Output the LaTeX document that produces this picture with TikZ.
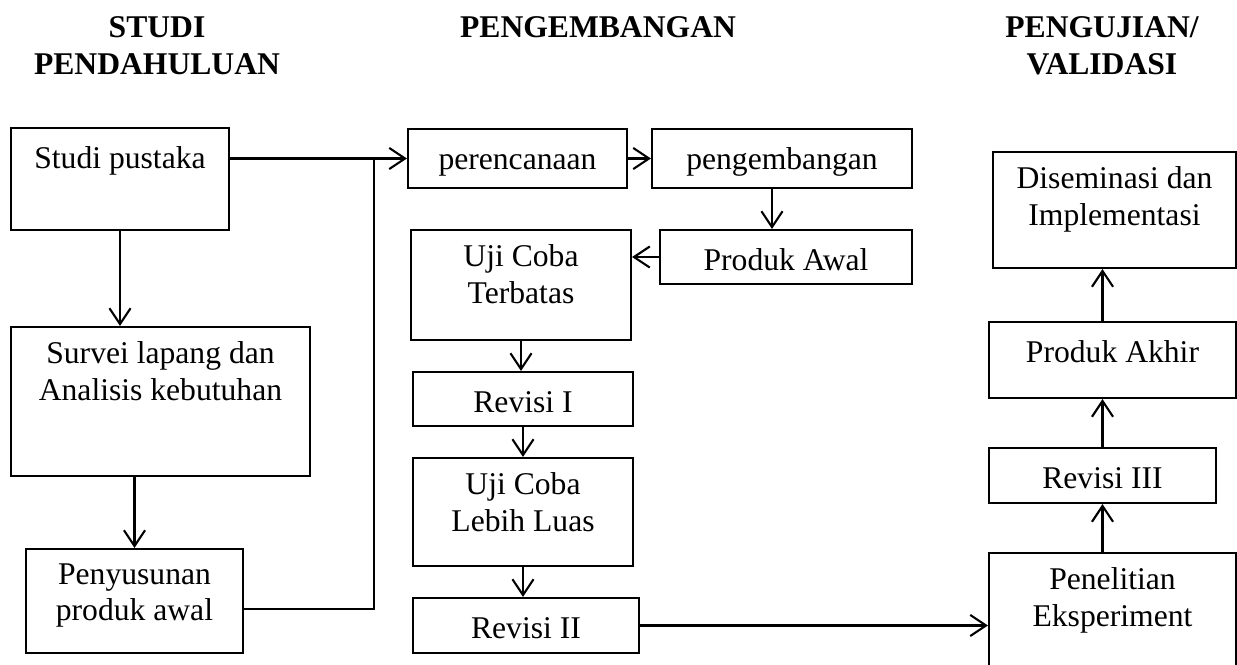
\documentclass[tikz,border=0pt]{standalone}
\usepackage{fontspec}
\setmainfont{Liberation Serif}
\usepackage{tikz}
\usetikzlibrary{arrows.meta}
\usetikzlibrary{fit,calc}
\tikzset{
	garis tebal/.style={line width=1.2pt}
}
\tikzstyle{kotak}=[draw, garis tebal, inner sep=0pt]
\tikzstyle{teks}=[align=center, inner sep=0pt, anchor=north, font=\fontsize{18}{21}\selectfont, execute at begin node=\strut]
\tikzstyle{judul}=[align=center, inner sep=0pt, anchor=north, font=\fontsize{18}{21}\selectfont\bfseries]
\tikzstyle{garis}=[garis tebal]
\tikzstyle{panah}=[garis tebal, -{Straight Barb[length=9pt,width=12pt]}]
\newcommand{\kotakAtas}[4]{
	\node[kotak, fit={#2 #3}] (#1) {};
	\node[teks] (#1-teks) at ([yshift=-0.3cm]#1.north) {#4};
}
\begin{document}
\begin{tikzpicture}[x=0.02cm, y=-0.02cm]
	\useasboundingbox (0,0) rectangle (1237,664);
	\node[judul] (judul-studi) at (157,16) {STUDI\\PENDAHULUAN};
	\node[judul] (judul-kembang) at (598,16) {PENGEMBANGAN};
	\node[judul] (judul-uji) at (1102,16) {PENGUJIAN/\\VALIDASI};
	\kotakAtas{studi}{(11,128)}{(229,230)}{Studi pustaka};
	\kotakAtas{survei}{(11,327)}{(310,476)}{Survei lapang dan\\Analisis kebutuhan};
	\kotakAtas{penyusunan}{(26,549)}{(243,653)}{Penyusunan\\produk awal};
	\kotakAtas{perencanaan}{(408,129)}{(627,188)}{perencanaan};
	\kotakAtas{pengembangan}{(652,129)}{(912,188)}{pengembangan};
	\kotakAtas{produkawal}{(660,230)}{(912,284)}{Produk Awal};
	\kotakAtas{ujiterbatas}{(411,230)}{(631,340)}{Uji Coba\\Terbatas};
	\kotakAtas{revisi1}{(413,372)}{(633,426)}{Revisi I};
	\kotakAtas{ujiluas}{(413,458)}{(633,566)}{Uji Coba\\Lebih Luas};
	\kotakAtas{revisi2}{(413,598)}{(639,653)}{Revisi II};
	\kotakAtas{diseminasi}{(993,152)}{(1236,268)}{Diseminasi dan\\Implementasi};
	\kotakAtas{produkakhir}{(989,322)}{(1236,398)}{Produk Akhir};
	\kotakAtas{revisi3}{(989,448)}{(1216,503)}{Revisi III};
	\kotakAtas{penelitian}{(989,553)}{(1236,680)}{Penelitian\\Eksperiment};
	\coordinate (belok) at (374,609);
	\draw[panah] (studi.south) -- (studi.south |- survei.north);
	\draw[panah] (penyusunan.north |- survei.south) -- (penyusunan.north);
	\draw[panah] (studi.east |- perencanaan.west) -- (perencanaan.west);
	\draw[garis] (penyusunan.east |- belok) -- (belok) -- (belok |- perencanaan.west);
	\draw[panah] (perencanaan.east) -- (pengembangan.west);
	\draw[panah] ([xshift=-0.2cm]pengembangan.south) -- ([xshift=-0.2cm]pengembangan.south |- produkawal.north);
	\draw[panah] (produkawal.west) -- (produkawal.west -| ujiterbatas.east);
	\draw[panah] (ujiterbatas.south) -- (ujiterbatas.south |- revisi1.north);
	\draw[panah] (revisi1.south) -- (revisi1.south |- ujiluas.north);
	\draw[panah] (ujiluas.south) -- (ujiluas.south |- revisi2.north);
	\draw[panah] (revisi2.east) -- (revisi2.east -| penelitian.west);
	\draw[panah] (penelitian.north -| revisi3.south) -- (revisi3.south);
	\draw[panah] (revisi3.north) -- (revisi3.north |- produkakhir.south);
	\draw[panah] (revisi3.north |- produkakhir.north) -- (revisi3.north |- diseminasi.south);
\end{tikzpicture}
\end{document}
